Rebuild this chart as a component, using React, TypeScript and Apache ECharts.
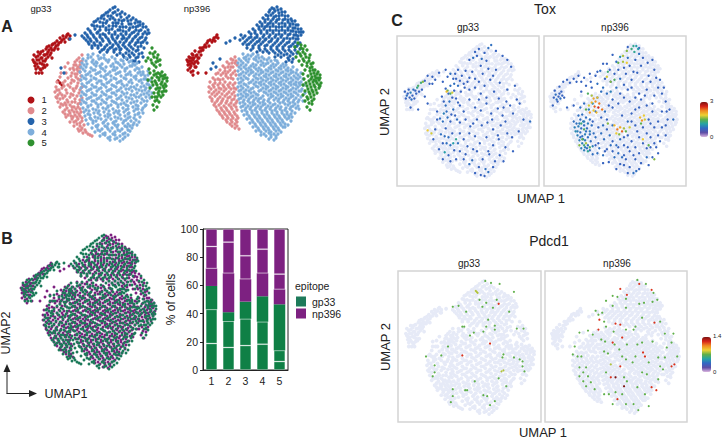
import { useEffect, useRef } from 'react';
import * as echarts from 'echarts';

const c1Gp33 = [3,85,5,82,6,88,8,78,9,85,10,91,12,81,12,87,13,94,15,84,15,90,16,96,18,88,18,93,19,99,21,92,21,97,23,101,24,95,26,99,27,104,29,102,30,107,32,105,33,109,36,108,38,111,35,103,6,76,9,72,11,75,13,77,4,90,8,93,22,87,28,96,39,106,17,80,30,62,32,60,28,64,
  4,83,5,79,7,85,7,81,8,89,10,82,10,76,11,87,11,93,13,84,14,80,14,90,16,86,17,91,17,98,19,95,20,90,22,95,22,100,25,97,25,102,28,100,31,103,34,106,37,110,40,109,6,72,12,72,15,78];
const c2Gp33 = [52,90,47,85,52,84,44,80,50,80,40,76,47,76,36,72,42,72,50,73,30,68,38,67,46,68,27,63,33,62,44,64,50,65,26,58,32,57,40,58,47,59,25,53,30,52,37,52,44,54,50,55,26,48,33,47,40,48,47,49,50,45,28,43,35,42,42,43,48,41,30,38,37,37,44,38,50,36,33,33,40,32,47,33,36,28,43,28,50,29,40,23,46,24,52,24,44,19,50,19,54,20,49,14,55,15,58,11,62,9,35,78,31,72,38,82,49,87,45,83,48,78,44,75,41,69,47,71,35,64,41,62,48,62,29,55,36,55,43,56,28,50,35,49,43,50,30,46,37,45,45,46,33,40,40,40,46,36,35,35,42,35,49,31,38,30,45,30,42,26,48,26,47,21,52,17,53,12,
  50,83,46,80,43,77,50,77,48,74,45,71,51,69,48,66,42,65,38,60,46,57,52,58,34,59,49,52,41,51,32,50,52,47,38,43,45,43,50,42,31,41,36,40,42,38,48,38,39,34,44,33,51,33,35,31,41,29,47,28,52,27,44,23,50,22,48,16,51,15,56,13,60,10,27,55,27,47];
const c3Gp33 = [85,138,80,135,88,135,92,133,76,132,83,132,87,130,95,131,72,129,78,129,91,128,99,129,103,127,68,126,74,126,80,126,85,125,94,125,98,124,106,125,110,123,64,123,70,123,76,122,83,122,88,122,92,121,101,121,105,122,113,121,62,120,67,119,73,119,79,119,86,119,90,118,96,118,103,118,108,119,116,118,58,116,65,116,70,115,76,115,82,116,88,115,93,114,99,115,106,115,111,115,118,115,55,112,61,112,67,112,73,111,79,112,85,111,91,111,96,111,102,112,108,111,113,111,117,111,52,109,58,108,64,108,70,108,76,108,82,108,87,107,94,107,99,108,105,108,110,107,116,107,56,105,61,104,67,104,73,104,79,104,85,104,90,103,96,104,102,104,108,103,113,103,59,101,65,100,71,100,77,100,83,100,88,100,93,100,99,100,105,100,111,99,62,97,68,97,74,96,80,97,86,96,91,96,97,96,103,96,108,95,70,93,77,93,84,93,90,92,96,92,102,92,109,91,94,88,100,88,106,87,109,83,103,84,40,106,45,110,31,77,34,72,
  83,137,78,133,90,131,85,133,74,130,81,129,97,127,101,125,71,127,77,124,83,127,89,125,92,124,108,123,66,124,73,122,86,122,99,121,110,120,64,119,70,118,76,117,83,119,93,118,100,117,106,118,113,118,60,114,68,113,79,115,85,113,90,115,96,113,104,113,109,114,115,113,57,110,63,110,70,110,75,110,82,110,88,109,93,109,100,110,106,109,112,108,119,112,54,107,60,106,66,106,72,106,78,106,83,106,92,106,97,106,103,106,108,105,115,105,58,103,64,102,70,102,80,102,86,102,94,102,100,102,106,102,111,102,62,99,68,99,75,98,82,98,89,98,95,98,101,98,108,98,72,95,78,95,84,95,90,95,99,94,106,94,87,90,93,90,99,90,104,90,97,86,105,84,108,88,112,92,114,97,117,102,113,88];
const c4Gp33 = [58,90,63,91,68,89,74,90,53,86,58,87,63,85,69,86,74,87,79,85,85,86,91,85,96,87,52,82,57,81,62,83,67,82,72,81,78,83,83,81,88,82,94,81,99,83,103,81,51,78,56,78,61,77,66,79,71,77,76,78,81,79,87,77,92,78,97,77,102,79,107,77,50,73,55,74,60,73,65,75,70,73,75,74,80,73,85,75,90,73,95,74,100,73,105,75,110,73,52,69,56,70,61,69,66,71,71,69,76,70,81,69,86,71,91,69,96,70,101,70,106,69,111,70,115,69,51,65,56,66,61,65,66,66,71,64,76,66,81,65,86,66,91,64,96,66,101,65,106,66,111,65,116,66,52,61,57,62,62,60,67,62,72,61,77,62,82,60,87,62,92,61,97,60,102,62,107,60,112,62,117,61,51,57,56,58,61,56,66,58,71,57,76,58,81,56,86,58,91,57,96,56,101,58,106,56,111,58,116,57,119,54,52,53,57,54,62,52,67,54,72,53,77,54,82,52,87,54,92,53,97,52,102,54,107,52,112,54,117,52,51,49,56,50,61,48,66,50,71,49,76,50,81,48,86,50,91,49,96,48,101,50,106,48,111,50,116,48,120,47,52,45,57,46,62,44,67,46,72,45,77,46,82,44,87,46,92,45,97,44,102,46,107,44,112,46,117,44,51,41,56,42,61,40,66,42,71,41,76,42,81,40,86,42,91,41,96,40,101,42,106,40,111,42,116,40,53,37,58,38,63,36,68,38,73,37,78,38,83,36,88,38,93,37,98,36,103,38,108,36,113,37,54,33,59,34,64,32,69,34,74,33,79,34,84,32,89,34,94,33,99,32,104,34,109,32,113,32,55,29,60,30,65,28,70,30,75,29,80,30,85,28,90,30,95,29,100,28,105,30,110,28,56,25,61,26,66,24,71,26,76,25,81,26,86,24,91,26,96,25,101,24,106,25,109,23,58,21,63,22,68,20,73,22,78,21,83,22,88,20,93,22,98,21,103,20,107,20,62,17,67,18,72,16,77,18,82,17,87,18,92,16,97,18,102,17,65,13,70,14,75,12,80,14,85,13,90,14,95,12,100,14,70,9,75,10,80,8,85,10,90,9,95,8,80,5,85,6,90,4,
  61,88,71,87,82,88,56,84,66,83,76,85,86,83,93,84,101,84,54,80,64,81,70,79,84,78,90,80,100,79,105,80,53,76,63,75,73,76,83,75,95,76,109,76,113,73,58,71,68,72,78,71,88,72,98,71,108,72,113,71,54,67,64,67,74,68,84,67,94,67,104,68,114,66,118,64,59,63,69,64,79,63,89,63,99,63,109,64,119,60,54,59,64,58,74,60,84,59,94,59,104,58,114,59,59,55,69,56,79,55,89,55,99,56,109,55,115,55,54,51,64,50,74,51,84,52,94,51,104,50,114,51,119,50,59,47,69,47,79,48,89,47,99,47,109,48,54,43,64,44,74,43,84,43,94,42,104,43,114,44,58,39,68,40,78,39,88,40,98,39,108,39,115,39,56,35,66,35,76,36,86,34,96,35,106,36,112,35,58,31,68,32,78,31,88,32,98,31,108,31,60,27,68,27,78,28,88,27,98,27,104,27,63,24,74,23,84,23,94,24,104,22,66,19,75,19,85,20,95,19,100,19,68,15,78,16,88,15,98,15,73,11,83,11,93,11,98,10,78,7,87,7,93,6,118,70,120,65,121,58,122,52,118,74,112,78,107,82];
const c5Gp33 = [122,97,125,93,120,92,128,90,124,88,118,87,130,85,126,83,122,82,130,80,116,84,126,78,120,72,124,74,128,72,132,73,135,70,131,69,127,68,122,67,118,65,125,64,129,65,133,66,137,64,135,61,131,61,127,60,123,60,120,57,126,56,130,57,134,57,136,54,132,53,128,52,124,52,122,48,127,48,131,48,125,44,129,43,123,40,127,38,124,35,
  123,91,127,87,121,85,128,84,124,80,119,76,126,71,130,71,133,69,137,67,135,67,129,67,124,70,132,63,136,59,128,57,133,59,122,63,126,62,129,54,134,54,125,48,129,50,133,50,127,45];

const c1Np396 = [2,85,3,80,4,88,5,77,6,84,7,91,8,74,9,81,9,87,10,94,11,78,12,84,12,90,14,93,14,87,15,97,6,73,3,75,16,90,18,95,20,100,22,102,24,99,25,105,27,103,29,107,30,104,32,110,33,107,19,98,13,72,8,70,21,72,
  3,83,4,84,5,81,5,87,6,79,7,87,7,82,8,85,8,90,10,83,10,78,11,89,13,82,13,87,16,94,17,97,21,98,23,104,28,105,31,108];
const c2Np396 = [50,88,46,86,51,84,42,83,47,82,52,80,38,79,43,78,48,78,35,75,40,74,45,75,50,74,31,71,36,70,41,71,46,70,51,70,28,67,33,66,38,66,43,67,48,66,25,63,30,62,35,62,40,63,45,62,50,62,24,58,29,58,34,57,39,58,44,58,49,57,24,53,29,53,34,53,39,54,44,53,49,53,25,48,30,49,35,48,40,49,45,48,50,49,27,44,32,44,37,44,42,44,47,45,52,44,29,40,34,40,39,39,44,40,49,40,32,35,37,35,42,35,47,36,52,35,35,31,40,31,45,31,50,31,38,27,43,27,48,27,53,27,42,23,47,23,52,23,47,19,52,19,54,16,
  48,85,44,81,50,82,40,77,46,78,33,72,38,72,43,73,48,72,30,65,35,65,41,69,46,67,28,60,33,60,38,60,43,60,48,60,26,56,31,55,36,56,41,56,46,56,51,56,27,51,32,51,37,51,42,51,47,51,27,46,33,46,38,46,43,47,49,46,30,42,36,42,41,42,46,42,51,42,31,38,36,37,41,37,46,38,51,38,34,33,39,33,44,33,49,33,37,29,42,29,47,29,52,29,41,25,46,25,51,25,45,21,50,21,50,17];
const c3Np396 = [92,138,87,137,96,136,84,133,90,134,94,132,100,133,81,130,86,130,91,129,97,130,103,129,106,126,78,127,83,126,88,126,94,126,100,126,110,124,75,123,80,123,85,122,91,123,97,122,103,123,108,121,113,120,72,120,77,119,82,119,88,119,94,118,100,119,105,119,110,117,116,116,118,113,68,116,74,116,79,116,85,115,91,115,97,115,103,115,108,114,114,113,64,113,70,112,76,112,82,112,88,112,94,111,100,112,105,111,111,110,116,110,56,110,60,109,66,108,72,108,78,108,84,108,90,108,96,108,102,107,108,107,113,106,50,107,55,105,62,105,68,105,74,104,80,105,86,104,92,104,98,104,104,103,110,103,115,102,58,101,64,101,70,101,76,101,82,100,88,100,94,100,100,100,106,99,112,99,62,97,68,97,74,97,80,96,86,96,92,96,98,96,104,95,110,95,72,93,78,93,84,92,90,92,96,92,102,91,108,91,90,88,96,88,103,87,108,86,101,83,107,83,28,82,31,78,26,76,35,86,41,102,45,104,
  89,136,93,135,85,135,88,132,97,133,83,129,89,128,94,129,100,129,80,125,86,124,92,125,98,125,103,125,107,124,77,121,83,121,88,121,94,121,100,121,105,121,111,120,74,118,80,118,85,118,91,118,97,118,103,117,108,117,113,116,70,114,76,114,82,114,88,114,94,114,100,114,106,114,111,113,116,113,66,111,72,110,79,110,85,110,91,110,97,110,103,110,109,110,113,109,58,107,64,107,70,107,75,106,81,106,87,106,93,106,99,106,105,106,111,106,60,103,66,103,72,103,78,103,84,103,90,102,96,102,102,102,108,101,113,101,62,100,68,99,74,99,80,99,86,98,92,98,98,98,104,98,110,98,66,95,75,95,82,94,88,94,94,94,100,94,106,93,93,90,99,90,105,89,104,85,112,92,115,96];
const c4Np396 = [58,91,63,90,68,91,73,90,54,86,59,87,64,86,69,86,74,87,79,86,84,87,90,85,53,82,58,82,63,83,68,81,73,83,78,82,83,82,88,81,93,82,98,81,54,78,59,78,64,77,69,78,74,77,79,79,84,77,89,78,94,77,99,78,103,77,53,74,58,73,63,74,68,73,73,74,78,73,83,74,88,73,93,74,98,73,103,74,108,73,54,70,59,69,64,70,69,69,74,70,79,69,84,70,89,69,94,70,99,69,104,70,109,69,113,70,53,66,58,65,63,66,68,65,73,66,78,65,83,66,88,65,93,66,98,65,103,66,108,65,113,66,116,63,54,62,59,61,64,62,69,61,74,62,79,61,84,62,89,61,94,62,99,61,104,62,109,61,114,62,53,58,58,57,63,58,68,57,73,58,78,57,83,58,88,57,93,58,98,57,103,58,108,57,113,58,117,56,54,54,59,53,64,54,69,53,74,54,79,53,84,54,89,53,94,54,99,53,104,54,109,53,114,54,53,50,58,49,63,50,68,49,73,50,78,49,83,50,88,49,93,50,98,49,103,50,108,49,113,50,54,46,59,45,64,46,69,45,74,46,79,45,84,46,89,45,94,46,99,45,104,46,109,45,114,45,55,42,60,41,65,42,70,41,75,42,80,41,85,42,90,41,95,42,100,41,105,42,110,41,56,38,61,37,66,38,71,37,76,38,81,37,86,38,91,37,96,38,101,37,106,38,111,37,57,34,62,33,67,34,72,33,77,34,82,33,87,34,92,33,97,34,102,33,107,34,110,32,59,30,64,29,69,30,74,29,79,30,84,29,89,30,94,29,99,30,104,29,107,28,62,26,67,25,72,26,77,25,82,26,87,25,92,26,97,25,102,26,106,24,65,22,70,21,75,22,80,21,85,22,90,21,95,22,100,21,103,20,68,18,73,17,78,18,83,17,88,18,93,17,98,18,71,14,76,13,81,14,86,13,91,14,96,13,76,10,81,9,86,10,91,9,84,6,89,5,
  61,88,66,89,71,88,77,88,82,85,56,84,61,85,71,85,76,84,86,84,92,84,56,80,61,80,66,79,71,80,76,80,81,81,86,79,91,80,96,79,101,80,56,76,61,76,66,75,71,76,76,75,81,75,86,76,91,75,96,76,101,75,106,75,56,71,61,72,66,72,71,71,76,72,81,71,86,72,91,71,96,72,101,71,106,72,111,72,56,67,61,67,71,67,76,67,81,68,86,67,91,68,96,67,101,68,106,67,111,67,115,68,56,63,66,63,71,63,76,63,81,64,86,63,91,64,96,63,101,64,106,63,111,63,56,59,61,60,71,59,76,60,81,59,86,60,91,59,96,60,101,59,106,60,111,60,115,60,56,55,61,55,66,56,76,55,81,56,86,55,91,56,96,55,101,56,106,55,111,56,116,54,56,51,61,51,66,52,71,51,81,52,86,51,91,52,96,51,101,52,106,51,111,52,56,47,61,48,66,48,71,47,76,47,86,48,91,47,96,48,101,47,106,48,111,47,116,48,58,43,63,44,68,43,73,44,78,43,83,44,93,44,98,43,103,44,108,43,113,43,58,39,63,39,68,40,73,39,78,40,83,39,88,40,93,39,103,40,108,39,113,39,60,35,65,36,70,35,75,36,80,35,85,36,90,35,95,36,100,35,105,36,62,31,67,32,72,31,77,32,82,31,87,32,92,31,97,32,102,31,106,31,65,27,70,28,75,27,80,28,85,27,90,28,95,27,100,28,104,27,68,23,73,24,78,23,83,24,88,23,93,24,98,23,71,19,76,20,81,19,86,20,91,19,96,20,100,18,74,15,79,16,84,15,89,16,94,15,79,11,84,12,89,11,93,11,86,8,91,7,108,78,112,75,116,72,118,66,119,60,120,52,118,44,114,36];
const c5Np396 = [113,102,110,98,116,97,120,99,113,93,118,93,122,95,111,88,116,89,121,88,125,90,114,84,119,84,124,84,128,82,117,80,122,79,127,78,130,75,120,75,125,74,129,72,133,73,135,70,118,71,123,69,127,68,131,67,134,65,136,62,119,66,124,64,128,63,132,62,118,60,122,59,126,58,130,58,134,57,120,54,124,53,128,53,132,52,118,50,122,48,126,48,129,46,120,44,124,42,127,41,122,38,125,35,
  116,100,118,96,115,91,120,91,124,87,118,86,122,82,126,81,125,77,128,75,132,71,126,71,130,69,133,67,129,65,135,67,126,66,131,64,134,60,121,62,125,61,129,60,123,56,127,55,131,55,135,59,125,51,129,50,123,46,127,44];

// expression scatter: u,v,level
const toxGp33 = [4,90,.7,6,86,.8,8,92,.7,9,84,.7,10,89,.9,12,86,.7,13,92,.8,14,83,.7,16,88,.7,25,101,.7,28,106,.7,33,105,.7,36,102,.7,30,98,.7,10,74,.7,18,72,.7,25,85,.7,28,78,.7,40,109,.7,47,112,.7,52,108,.8,55,103,.7,60,112,.7,64,106,.7,68,111,.7,72,104,.7,78,103,.7,82,100,.7,86,108,.7,92,113,.7,97,106,.7,104,99,.7,72,122,.7,76,124,.8,80,126,.7,85,123,.8,88,129,.7,92,134,.8,95,137,.8,100,131,.7,107,126,.7,112,122,.7,116,115,.7,90,121,.7,82,133,.7,44,100,.7,47,93,.7,52,96,.8,56,91,.7,60,96,.8,63,90,.7,67,94,.7,72,92,.7,78,94,.7,84,88,.7,90,84,.7,98,90,.7,103,83,.7,112,92,.7,120,96,.7,122,82,.7,111,80,.7,43,85,.7,47,76,.8,51,80,.8,55,72,.8,58,83,.7,62,76,.7,66,70,.7,72,82,.7,78,74,.7,84,71,.7,90,78,.7,95,68,.7,102,73,.7,107,66,.7,118,68,.7,129,62,.7,136,60,.8,38,70,.7,41,63,.8,45,68,.9,49,64,.8,52,60,.7,57,66,.7,62,59,.7,68,62,.7,73,55,.7,80,62,.7,85,56,.7,91,59,.7,97,52,.7,105,56,.7,112,48,.7,117,44,.7,124,50,.7,36,52,.7,42,47,.8,47,53,.7,50,44,.8,55,38,1.1,58,42,1.2,52,36,.8,62,48,.7,66,42,.7,72,48,.7,78,45,.7,83,38,.7,90,44,.7,97,36,.7,103,42,.7,110,34,.7,118,30,.7,34,42,.7,40,32,.7,46,29,1.1,50,26,.7,58,22,.7,62,30,.7,68,27,.7,72,17,.8,75,21,.8,80,30,.7,86,22,.7,93,27,.7,99,20,.7,104,26,.7,82,14,.7,89,12,.8,92,9,.8,97,14,.7,84,6,.7,44,38,.7,
  7,88,.7,11,82,.8,15,91,.7,19,90,.7,5,83,.7,22,92,.7,33,98,.7,49,105,.7,57,108,.7,62,101,.7,70,100,.7,58,103,.7,75,110,.7,66,98,.7,56,98,.8,50,88,.7,45,80,.7,54,84,.7,60,79,.7,48,70,.8,53,67,.7,59,62,.8,44,60,.8,38,62,.7,46,45,.8,54,48,.7,60,38,.8,56,31,.7,48,38,.8,44,22,.7,52,20,.7,70,35,.7,76,32,.7,66,22,.7,92,30,.7,108,20,.7,78,8,.7,88,5,.7,96,62,.7,108,74,.7,115,76,.7,125,78,.7,102,46,.7,110,60,.7,76,58,.7,82,82,.7,88,96,.7,94,102,.7,100,112,.7,78,130,.7,84,116,.7,
  32,48,1.8,49,91,1.5,52,88,1.4,21,99,1.3,23,100,1.6,17,94,1.2,18,96,1.4,48,90,2,54,89,1.8,28,51,1.9];
const toxNp396 = [5,76,.7,6,84,.7,8,87,.8,9,82,.8,11,85,.7,12,88,.7,13,83,.8,15,86,.7,17,84,.7,7,91,.7,12,95,.7,16,100,.7,23,99,.7,27,103,.7,32,106,.7,30,100,.7,20,74,.7,27,76,.7,38,104,.7,45,100,.7,50,106,.7,55,111,.8,60,103,.7,65,112,.7,58,118,.7,70,108,.7,76,103,.8,82,108,.7,88,102,.7,94,109,.7,100,100,.7,106,106,.7,112,112,.7,118,102,.7,116,94,.7,72,120,.8,76,125,1,80,114,.7,86,116,.7,92,122,.7,96,128,.8,100,124,.7,105,119,.7,110,122,.7,68,127,.7,84,124,.8,96,134,.7,84,135,.7,120,88,.7,124,80,.7,128,72,.7,132,62,.8,126,62,.7,120,70,.7,112,86,.7,104,92,.7,96,88,.7,88,94,.7,80,97,.7,72,94,.8,66,100,.7,52,98,.8,58,94,.8,46,94,.7,40,96,.7,35,90,.7,32,66,.8,34,62,.8,36,67,.8,38,60,.9,40,64,.8,42,58,.9,44,62,.8,46,56,.8,30,58,.8,32,55,.9,35,53,.8,38,56,.8,41,53,.8,44,50,.9,47,60,.7,34,49,.8,29,50,1,31,46,.9,36,45,.8,39,47,.9,42,44,.8,33,41,.9,36,38,.9,39,41,.9,42,36,.8,45,40,.8,35,33,.9,38,31,.9,41,33,.8,44,31,.8,47,35,.9,50,44,.8,53,38,.7,56,48,.8,59,42,.8,62,52,.7,65,46,.8,68,40,.7,72,36,.8,76,42,.8,80,36,.7,84,46,.7,88,40,.7,92,34,.7,96,44,.7,100,38,.7,104,33,.7,108,44,.7,112,38,.7,116,46,.7,120,54,.7,124,56,.7,116,28,.7,110,24,.7,104,24,.8,98,18,.7,92,22,.7,86,14,.7,90,8,.8,93,10,.8,82,22,.7,76,17,.7,70,24,.8,64,19,.7,58,26,.8,52,28,.8,47,27,.8,62,32,.7,68,30,.7,74,28,.8,80,26,.7,86,30,.7,96,28,.7,56,64,.7,60,70,.8,64,76,.7,68,82,.7,74,78,.7,80,84,.7,86,80,.7,92,72,.7,98,82,.7,104,76,.7,110,70,.7,116,60,.7,108,58,.7,100,54,.7,92,56,.7,84,60,.8,62,62,.7,68,56,.8,58,56,.8,50,70,.8,43,72,.9,47,78,1,38,78,.8,34,74,.8,52,84,1,56,90,.8,62,88,.8,66,90,.9,
  10,80,.7,14,90,.7,20,102,.7,35,100,.7,44,108,.7,52,110,.7,62,118,.7,74,112,.7,90,110,.7,98,116,.7,108,100,.7,114,104,.7,122,94,.7,125,70,.7,110,78,.7,102,86,.7,92,84,.7,84,92,.7,76,88,.7,68,74,.7,78,66,.7,88,68,.7,96,74,.7,106,62,.7,112,54,.7,104,48,.7,94,50,.7,88,60,.7,80,44,.7,74,34,.7,66,36,.8,60,30,.7,54,33,.8,50,36,.7,48,48,.8,53,54,.7,37,60,.9,33,58,.9,28,54,.9,31,50,.9,40,50,.8,27,60,.8,37,42,.9,44,47,.8,39,34,.9,34,44,.8,58,18,.7,72,12,.7,80,16,.7,84,8,.7,96,12,.7,106,16,.7,114,34,.7,124,46,.7,118,40,.7,108,34,.7,90,26,.7,84,34,.7,78,24,.8,
  70,102,1.4,63,110,1.3,90,136,1.2,93,136,1.1,88,133,1.3,91,130,1.2,95,133,1.1,83,131,1.6,79,126,1.7,74,119,1.5,83,119,1.9,79,120,1.7,62,105,1.8,66,100,1.6,42,88,1.4,46,86,1.7,48,83,2.1,50,80,2.2,52,84,2,54,78,2.3,46,79,2,43,76,1.8,49,75,2.4,53,74,2.6,44,69,2.2,48,71,1.9,40,72,1.5,57,72,2.3,51,69,2,35,58,1.3,38,52,1.4,36,42,1.5,40,38,1.7,44,34,1.4,38,36,1.3,33,36,1.6,42,30,1.2,70,56,2,73,52,2.3,76,54,2.1,78,50,2.4,72,48,1.9,75,47,1.6,80,53,1.7,97,64,2,99,61,2.2,101,66,1.9,102,62,1.8,98,58,1.5,63,58,1.6,100,42,1.9,106,36,1.5,112,22,1.6,82,50,1.5,86,54,1.8];
const pdcd1Gp33 = [86,138,.7,92,136,.7,101,135,.7,76,128,.8,78,126,.8,77,127,.8,116,127,.7,52,112,.7,58,113,.7,83,112,.7,87,116,.7,94,111,.7,100,115,1.2,80,119,.7,98,119,.7,111,107,.7,66,107,.7,89,99,.7,87,92,.7,96,93,.7,96,89,.7,64,92,.7,62,92,.7,119,90,.7,126,90,.7,84,87,.7,74,86,.7,70,83,.7,91,75,1.2,47,72,.7,24,62,.7,40,63,.7,62,63,1.2,33,53,.7,52,29,.7,52,22,.7,50,16,.7,96,17,.7,91,13,.7,84,23,.7,88,22,.7,75,37,.7,65,28,.7,67,28,.7,105,48,.8,103,47,.8,105,64,.7,104,61,.7,116,61,.7,122,59,.7,125,57,.7,125,52,.7,127,47,.7,108,32,.7,100,40,.7,33,46,.7,31,42,.7];
const pdcd1Np396 = [92,139,.7,94,135,1.2,101,135,.7,107,129,1.2,74,130,1.2,81,124,1.2,66,123,.7,71,122,.7,80,120,.7,109,126,.7,113,119,.7,108,117,.7,99,116,.7,94,115,.7,80,111,.7,66,113,.7,59,118,.7,48,108,.7,51,104,.7,55,106,.7,52,99,1.2,57,97,.7,59,92,.7,69,95,1.2,74,94,1.2,67,87,.7,80,89,.7,88,89,.7,90,92,.7,97,101,.7,110,96,1.2,116,97,.7,121,85,.7,130,85,.7,128,76,.7,134,62,.7,123,71,.7,31,86,.7,40,88,.7,45,84,.7,51,89,1.2,58,77,.7,54,79,.7,66,76,1.2,68,74,.7,76,81,1.2,57,67,.7,61,65,.7,73,69,.7,81,74,.7,92,74,.7,97,76,.7,108,77,.7,98,66,1.2,100,62,1.2,90,62,.7,76,62,.7,64,54,.8,74,52,1.2,80,59,.7,87,56,.7,104,56,.7,116,52,.7,128,52,1.2,131,54,1.2,121,61,.7,114,61,.7,26,72,.7,29,62,.7,33,62,.7,24,64,.7,31,51,.7,38,51,.7,35,46,.7,31,42,.7,40,42,.7,35,37,.7,43,36,.7,38,32,.7,47,29,.7,59,46,.7,64,41,1.2,69,41,1.4,78,41,.7,81,37,.7,78,32,1.4,92,31,.7,97,46,.7,102,44,.7,107,31,1.2,112,28,1.2,114,39,.7,119,49,.7,69,26,.7,62,24,.7,76,24,.7,71,19,1.2,80,14,.7,88,14,.7,93,8,.7,104,12,.7,66,14,.7,100,24,.7,57,24,.7];

const barCategories = ['1', '2', '3', '4', '5'];
const gp33Segments = [
  [18.8, 16, 17.3, 18.3, 6],
  [24.2, 18.7, 19, 15.9, 7.8],
  [16.6, 6.3, 12.2, 18.1, 32.8],
];
const np396Segments = [
  [12.4, 27.6, 15.9, 16.3, 10.6],
  [15.6, 22.1, 16.6, 17.1, 10.8],
  [12.4, 9.3, 19, 14.3, 32],
];

const clusterNames = ['1', '2', '3', '4', '5'];
const clusterColors = ['#b01217', '#e08a8d', '#2463ab', '#7eaedb', '#2f9130'];
const GREEN = '#0f8046';
const PURPLE = '#7d2181';
const BG = '#e6eaf7';
const FONT = 'Liberation Sans';

const pairs = (flat: number[]) => {
  const out: number[][] = [];
  for (let i = 0; i < flat.length; i += 2) out.push([flat[i], flat[i + 1]]);
  return out;
};
const triples = (flat: number[]) => {
  const out: number[][] = [];
  for (let i = 0; i < flat.length; i += 3) out.push([flat[i], flat[i + 1], flat[i + 2]]);
  return out;
};

const label = (text: string, x: number, y: number, fontSize: number, extra: any = {}) => ({
  type: 'text',
  x,
  y,
  rotation: extra.rotation || 0,
  silent: true,
  style: {
    text,
    fontSize,
    fontFamily: FONT,
    fontWeight: extra.bold ? 'bold' : 'normal',
    fill: extra.fill || '#222',
    align: extra.align || 'center',
    verticalAlign: 'middle',
  },
});

export default function App() {
  const chartRef = useRef<HTMLDivElement>(null);

  useEffect(() => {
    if (!chartRef.current) return;
    const myChart = echarts.init(chartRef.current, null, { renderer: 'svg' });

    const grid: any[] = [];
    const xAxis: any[] = [];
    const yAxis: any[] = [];
    const series: any[] = [];

    const umapPanel = (box: number[], u: number[], v: number[], framed = false) => {
      grid.push({
        left: box[0], top: box[1], width: box[2], height: box[3],
        show: framed, borderColor: '#d4d4d4', borderWidth: 1.5, backgroundColor: 'transparent',
      });
      const i = grid.length - 1;
      xAxis.push({ gridIndex: i, type: 'value', min: u[0], max: u[1], show: false });
      yAxis.push({ gridIndex: i, type: 'value', min: v[0], max: v[1], show: false });
      return i;
    };
    const dots = (name: string, i: number, data: number[][], color: string, size: number, z = 2) => {
      series.push({
        name, type: 'scatter', xAxisIndex: i, yAxisIndex: i, data, symbolSize: size, z, silent: true,
        itemStyle: { color, opacity: 1 },
      });
    };

    // panel A
    const a1 = umapPanel([30, 5, 140, 140], [0, 140], [0, 140]);
    const a2 = umapPanel([185, 5, 140, 140], [0, 140], [0, 140]);
    const gp33Clusters = [c1Gp33, c2Gp33, c3Gp33, c4Gp33, c5Gp33];
    const np396Clusters = [c1Np396, c2Np396, c3Np396, c4Np396, c5Np396];
    clusterNames.forEach((n, k) => dots(n, a1, pairs(gp33Clusters[k]), clusterColors[k], 3.3));
    clusterNames.forEach((n, k) => dots(n, a2, pairs(np396Clusters[k]), clusterColors[k], 3.3));

    // panel B
    const allGp33 = pairs(gp33Clusters.flat());
    const allNp396 = pairs(np396Clusters.flat());
    const b = umapPanel([19, 233, 140, 140], [0, 140], [0, 140]);
    dots('np396', b, allNp396, PURPLE, 2.9);
    dots('gp33', b, allGp33, '#1d7a5a', 2.9, 3);

    // stacked bars
    grid.push({ left: 203, top: 229, width: 85, height: 141, show: true, borderColor: '#222', borderWidth: 1, backgroundColor: 'transparent' });
    const barIdx = grid.length - 1;
    xAxis.push({
      gridIndex: barIdx, type: 'category', data: barCategories,
      axisLine: { lineStyle: { color: '#222', width: 1 } },
      axisTick: { alignWithLabel: true, length: 3, lineStyle: { color: '#222' } },
      axisLabel: { color: '#222', fontSize: 10.5, fontFamily: FONT, margin: 5 },
    });
    yAxis.push({
      gridIndex: barIdx, type: 'value', min: 0, max: 100, interval: 20,
      name: '% of cells', nameLocation: 'middle', nameGap: 22,
      nameTextStyle: { color: '#222', fontSize: 12, fontFamily: FONT },
      axisLine: { show: true, lineStyle: { color: '#222', width: 1 } },
      axisTick: { show: true, length: 3, lineStyle: { color: '#222' } },
      axisLabel: { color: '#222', fontSize: 10.5, fontFamily: FONT, margin: 5 },
      splitLine: { show: false },
    });
    const segLine = { borderColor: 'rgba(255,255,255,0.3)', borderWidth: 0.8 };
    const barSeries = (name: string, data: number[], color: string, lined: boolean) => {
      series.push({
        name, type: 'bar', stack: 'share', xAxisIndex: barIdx, yAxisIndex: barIdx, data, barWidth: 11.5, silent: true,
        itemStyle: lined ? { color, ...segLine } : { color },
      });
    };
    gp33Segments.forEach((d, k) => barSeries('gp33', d, GREEN, k < 2));
    np396Segments.forEach((d, k) => barSeries('np396', d, PURPLE, k > 0));

    // panel C, expression panels
    const toxU = [-4.3, 145.4];
    const toxV = [-5, 146];
    const pdU = [-5.3, 144.3];
    const pdV = [-4, 148];
    const t1 = umapPanel([397, 36, 142, 150], toxU, toxV, true);
    const t2 = umapPanel([544, 36, 142, 150], toxU, toxV, true);
    const p1 = umapPanel([398, 271, 143, 151], pdU, pdV, true);
    const p2 = umapPanel([545, 271, 142, 151], pdU, pdV, true);
    dots('bgTox1', t1, allGp33, BG, 3.6);
    dots('bgTox2', t2, allNp396, BG, 3.6);
    dots('bgPd1', p1, allGp33, BG, 3.8);
    dots('bgPd2', p2, allNp396, BG, 3.8);
    const firstExpr = series.length;
    dots('Tox gp33', t1, triples(toxGp33), '#3a6fc0', 2.4, 4);
    dots('Tox np396', t2, triples(toxNp396), '#3a6fc0', 2.4, 4);
    dots('Pdcd1 gp33', p1, triples(pdcd1Gp33), '#7aa868', 2.2, 4);
    dots('Pdcd1 np396', p2, triples(pdcd1Np396), '#7aa868', 2.2, 4);

    const rainbow = ['#dcb4e0', '#5f4fa6', '#3268c4', '#25a3a6', '#5fb04a', '#eed132', '#f08a22', '#d6231a', '#7d1210'];

    const option = {
      animation: false,
      textStyle: { fontFamily: FONT },
      grid,
      xAxis,
      yAxis,
      series,
      legend: [
        {
          data: clusterNames, orient: 'vertical', left: 27.5, top: 94.6, padding: 0, icon: 'circle',
          itemWidth: 7, itemHeight: 7, itemGap: 0, selectedMode: false,
          textStyle: { fontSize: 9.5, lineHeight: 10.7, color: '#222', fontFamily: FONT, padding: [0, 0, 0, 2] },
        },
        {
          data: ['gp33', 'np396'], orient: 'vertical', left: 291, top: 291, icon: 'rect',
          itemWidth: 10, itemHeight: 10, itemGap: 1, selectedMode: false, itemStyle: { borderWidth: 0 },
          textStyle: { fontSize: 10.5, color: '#222', fontFamily: FONT, padding: [0, 0, 0, 1] },
        },
      ],
      visualMap: [
        {
          type: 'continuous', min: 0, max: 3, dimension: 2, seriesIndex: [firstExpr, firstExpr + 1],
          left: 700, top: 102, itemWidth: 8, itemHeight: 35, padding: 0, calculable: false, hoverLink: false,
          inRange: { color: rainbow },
        },
        {
          type: 'continuous', min: 0, max: 1.4, dimension: 2, seriesIndex: [firstExpr + 2, firstExpr + 3],
          left: 702, top: 337, itemWidth: 9, itemHeight: 35, padding: 0, calculable: false, hoverLink: false,
          inRange: { color: rainbow },
        },
      ],
      graphic: [
        label('A', 7, 26, 16, { bold: true }),
        label('B', 7, 238, 16, { bold: true }),
        label('C', 397, 20, 16, { bold: true }),
        label('gp33', 41, 8, 9.5),
        label('np396', 197, 8, 9.5),
        label('UMAP2', 6, 333, 12.5, { rotation: Math.PI / 2 }),
        label('UMAP1', 66, 394, 12.5),
        label('epitope', 295, 286, 10.5, { align: 'left' }),
        label('Tox', 545, 9, 14),
        label('Pdcd1', 549, 241, 14),
        label('gp33', 468, 27, 10),
        label('np396', 615, 27, 10),
        label('gp33', 469, 263, 10),
        label('np396', 617, 263, 10),
        label('UMAP 1', 541, 198, 13),
        label('UMAP 1', 543, 432, 13),
        label('UMAP 2', 384, 112, 13, { rotation: Math.PI / 2 }),
        label('UMAP 2', 385, 347, 13, { rotation: Math.PI / 2 }),
        label('3', 710, 101, 6, { align: 'left' }),
        label('0', 710, 137, 6, { align: 'left' }),
        label('1.4', 713, 336, 6, { align: 'left' }),
        label('0', 713, 372, 6, { align: 'left' }),
        { type: 'line', silent: true, shape: { x1: 7, y1: 393.5, x2: 7, y2: 368 }, style: { stroke: '#222', lineWidth: 1 } },
        { type: 'line', silent: true, shape: { x1: 6.5, y1: 393.5, x2: 32, y2: 393.5 }, style: { stroke: '#222', lineWidth: 1 } },
        { type: 'polygon', silent: true, shape: { points: [[7, 364], [3.5, 372], [10.5, 372]] }, style: { fill: '#222' } },
        { type: 'polygon', silent: true, shape: { points: [[37, 393.5], [29, 390], [29, 397]] }, style: { fill: '#222' } },
      ],
    };

    myChart.setOption(option);

    return () => {
      myChart.dispose();
    };
  }, []);

  return <div ref={chartRef} style={{ position: 'fixed', left: 0, top: 0, width: 722, height: 439, background: '#fff' }} />;
}
